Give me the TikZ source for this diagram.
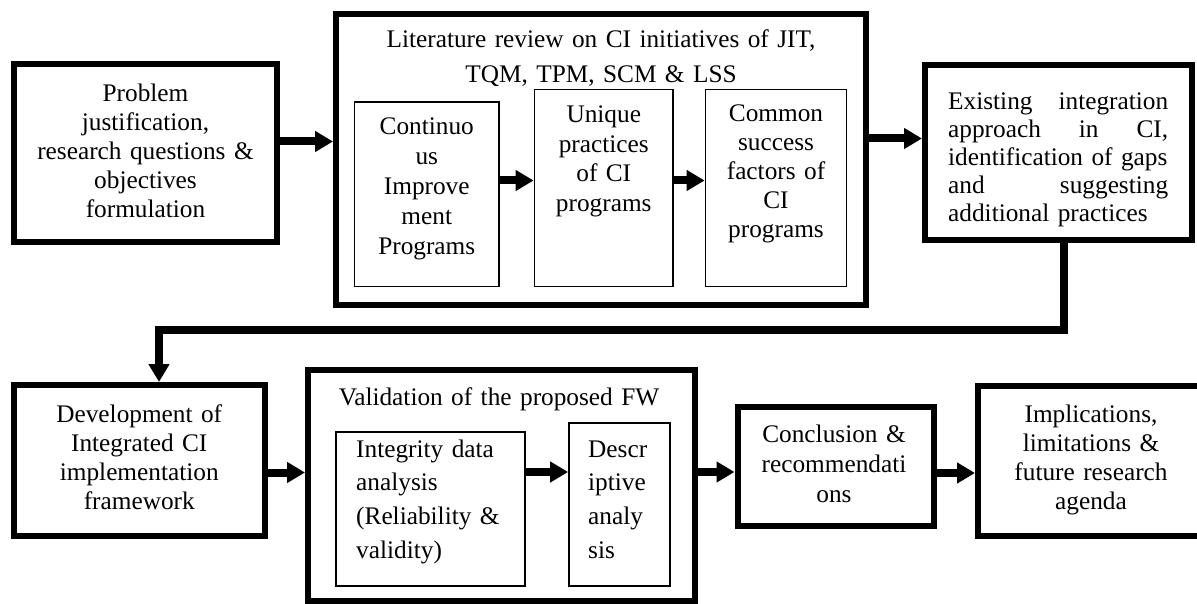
\documentclass[tikz,border=0pt]{standalone}
\usepackage{fontspec}
\setmainfont{Liberation Serif}
\usetikzlibrary{arrows.meta}
\newcommand\diagfont[1]{\fontsize{25.3}{#1}\selectfont}
\begin{document}
\begin{tikzpicture}[x=1pt,y=-1pt,
  heavybox/.style={draw, line width=6pt, inner sep=0pt, line join=miter},
  lightbox/.style={draw, line width=1.8pt, inner sep=0pt},
  txt/.style={inner sep=0pt, align=center, text width=300pt, font=\diagfont{29}},
  arr/.style={line width=8pt, line join=miter, -{Triangle[length=18pt,width=20pt]}}]
\useasboundingbox (0,0) rectangle (1197,604);
\clip (0,0) rectangle (1197,604);

% ---------- upper row ----------
\node[heavybox, minimum width=263pt, minimum height=178pt] (prob) at (145.5,153) {};
\node[txt, anchor=base] (probt) at (145.5,102)
  {Problem\\justification,\\research questions \&\\objectives\\formulation};

\node[heavybox, minimum width=530pt, minimum height=291pt] (lit) at (601,159.5) {};
\node[txt, anchor=base, text width=500pt] (litt) at (601,48)
  {Literature review on CI initiatives of JIT,\\[6pt]TQM, TPM, SCM \& LSS};

\node[lightbox, minimum width=144.5pt, minimum height=184.5pt] (cont) at (426.75,194.25) {};
\node[txt, anchor=base, font=\diagfont{30}] (contt) at (426.75,135)
  {Continuo\\us\\Improve\\ment\\Programs};

\node[lightbox, minimum width=138.5pt, minimum height=197pt] (uniq) at (603.75,188) {};
\node[txt, anchor=base, font=\diagfont{29.5}] (uniqt) at (603.75,123)
  {Unique\\practices\\of CI\\programs};

\node[lightbox, minimum width=141pt, minimum height=197pt] (comm) at (776,188) {};
\node[txt, anchor=base] (commt) at (776,122)
  {Common\\success\\factors of\\CI\\programs};

\node[heavybox, minimum width=266.5pt, minimum height=175pt] (exist) at (1058.25,152.5) {};
\node[txt, anchor=base west, align=left, text width=220pt, font=\diagfont{28}] (existt) at (948,110)
  {Existing\hfill integration\\approach\hfill in\hfill CI,\\\mbox{identification of gaps}\\and\hfill suggesting\\\mbox{additional practices}};

% ---------- lower row ----------
\node[heavybox, minimum width=250.5pt, minimum height=151pt] (dev) at (139.25,460.5) {};
\node[txt, anchor=base, font=\diagfont{29.3}] (devt) at (139.25,422)
  {Development of\\Integrated CI\\implementation\\framework};

\node[heavybox, minimum width=386.5pt, minimum height=231pt] (valid) at (501.25,485.5) {};
\node[txt, anchor=base, text width=380pt] (validt) at (499,405) {Validation of the proposed FW};

\node[lightbox, minimum width=189pt, minimum height=154pt] (integ) at (430.5,509) {};
\node[txt, anchor=base west, align=left, text width=180pt, font=\diagfont{33.7}] (integt) at (356,457)
  {Integrity data\\analysis\\(Reliability \&\\validity)};

\node[lightbox, minimum width=101pt, minimum height=163pt] (descr) at (619.5,504.5) {};
\node[txt, anchor=base west, align=left, text width=90pt, font=\diagfont{33.7}] (descrt) at (588,457)
  {Descr\\iptive\\analy\\sis};

\node[heavybox, minimum width=196pt, minimum height=119pt] (concl) at (835.5,466.5) {};
\node[txt, anchor=base, font=\diagfont{30}] (conclt) at (834,442)
  {Conclusion \&\\recommendati\\ons};

\node[heavybox, minimum width=226pt, minimum height=150pt] (impl) at (1091,461) {};
\node[txt, anchor=base, font=\diagfont{29.3}] (implt) at (1091,422)
  {Implications,\\limitations \&\\future research\\agenda};

% ---------- connectors ----------
\coordinate (a1) at ([yshift=11.5pt]prob.east);
\draw[arr] (a1) -- (a1 -| lit.west);

\coordinate (a2) at ([yshift=13.75pt]cont.east);
\draw[arr] (a2) -- (a2 -| uniq.west);

\coordinate (a3) at ([yshift=7.5pt]uniq.east);
\draw[arr] (a3) -- (a3 -| comm.west);

\coordinate (a4) at ([yshift=21pt]lit.east);
\draw[arr] (a4) -- (a4 -| exist.west);

\coordinate (e1) at ([xshift=5.75pt]exist.south);
\coordinate (d1) at ([xshift=19.75pt]dev.north);
\coordinate (turn) at (0,330);
\draw[arr] (e1) -- (e1 |- turn) -- (d1 |- turn) -- (d1);

\coordinate (a5) at ([yshift=-12pt]dev.east);
\draw[arr] (a5) -- (a5 -| valid.west);

\coordinate (a6) at ([yshift=37pt]integ.east);
\draw[arr] (a6) -- (a6 -| descr.west);

\coordinate (a7) at ([yshift=13.5pt]valid.east);
\draw[arr] (a7) -- (a7 -| concl.west);

\coordinate (a8) at ([yshift=-6.5pt]concl.east);
\draw[arr] (a8) -- (a8 -| impl.west);
\end{tikzpicture}
\end{document}
